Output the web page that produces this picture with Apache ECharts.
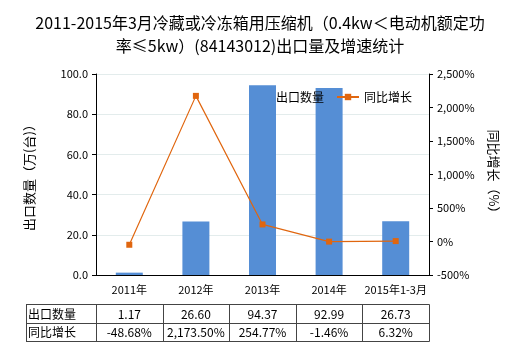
<!DOCTYPE html>
<html><head><meta charset="utf-8">
<script src="https://cdn.jsdelivr.net/npm/echarts@6/dist/echarts.min.js"></script>
<style>html,body{margin:0;padding:0;background:#fff}#c{width:520px;height:350px}</style>
</head><body><div id="c"></div>
<script>
var categories = ['2011年','2012年','2013年','2014年','2015年1-3月'];
var exportQty = [1.17, 26.60, 94.37, 92.99, 26.73];
var yoyGrowth = [-48.68, 2173.50, 254.77, -1.46, 6.32];
var qtyLabels = ['1.17','26.60','94.37','92.99','26.73'];
var growthLabels = ['-48.68%','2,173.50%','254.77%','-1.46%','6.32%'];
var rowNames = ['出口数量','同比增长'];
var titleText = '2011-2015年3月冷藏或冷冻箱用压缩机（0.4kw＜电动机额定功\n率≤5kw）(84143012)出口量及增速统计';

var FONT = '"Noto Sans CJK SC", "Noto Sans", sans-serif';
var chart = echarts.init(document.getElementById('c'));
function fmtPct(v){ return v.toLocaleString('en-US') + '%'; }
var option = {
  animation: false,
  textStyle: {fontFamily: FONT},
  title: {
    text: titleText, left: 'center', top: 6,
    textStyle: {fontSize: 16, fontWeight: 'normal', color: '#000', lineHeight: 23, fontFamily: FONT}
  },
  legend: {
    top: 86, left: 244, itemGap: 12, itemWidth: 22, itemHeight: 8,
    textStyle: {fontSize: 12, color: '#000', fontFamily: FONT},
    data: [{name: '出口数量', icon: 'rect'}, {name: '同比增长'}]
  },
  grid: {left: 96, right: 91, top: 74, bottom: 75},
  xAxis: {
    type: 'category', data: categories,
    axisLine: {lineStyle: {color: '#000'}},
    axisTick: {alignWithLabel: true, length: 4, lineStyle: {color: '#000'}},
    axisLabel: {color: '#000', fontSize: 11, margin: 9, interval: 0}
  },
  yAxis: [{
    type: 'value', min: 0, max: 100, interval: 20,
    name: '出口数量（万(台)）', nameLocation: 'middle', nameGap: 60, nameRotate: 90,
    nameTextStyle: {fontSize: 13, color: '#000'},
    axisLine: {show: true, lineStyle: {color: '#000'}},
    axisTick: {show: true, length: 4, lineStyle: {color: '#000'}},
    axisLabel: {color: '#000', fontSize: 11, formatter: function(v){return v.toFixed(1);}},
    splitLine: {lineStyle: {color: '#E3ECEC'}}
  }, {
    type: 'value', min: -500, max: 2500, interval: 500,
    name: '同比增长（%）', nameLocation: 'middle', nameGap: 58, nameRotate: -90,
    nameTextStyle: {fontSize: 13, color: '#000'},
    axisLine: {show: true, lineStyle: {color: '#000'}},
    axisTick: {show: true, length: 4, lineStyle: {color: '#000'}},
    axisLabel: {color: '#000', fontSize: 11, formatter: fmtPct},
    splitLine: {show: false}
  }],
  series: [{
    name: '出口数量', type: 'bar', data: exportQty, barWidth: 27,
    itemStyle: {color: '#558ED5'}, z: 2
  }, {
    name: '同比增长', type: 'line', yAxisIndex: 1, data: yoyGrowth,
    symbol: 'rect', symbolSize: 6,
    lineStyle: {color: '#E0660F', width: 1.2},
    itemStyle: {color: '#E0660F'}, z: 3
  }]
};
chart.setOption(option);

// build table from the arrays, aligned with the category axis
var rows = [qtyLabels, growthLabels];
var tableTop = 304, rowH = 18.5, tableLeft = 26;
var half = (chart.convertToPixel({xAxisIndex: 0}, 1) - chart.convertToPixel({xAxisIndex: 0}, 0)) / 2;
var firstLeft = chart.convertToPixel({xAxisIndex: 0}, 0) - half;
var lastRight = chart.convertToPixel({xAxisIndex: 0}, categories.length - 1) + half;
var els = [];
var lineStyle = {stroke: '#444', lineWidth: 1};
for (var r = 0; r <= rows.length; r++) {
  var y = Math.round(tableTop + r * rowH) + 0.5;
  els.push({type: 'line', shape: {x1: tableLeft, y1: y, x2: Math.round(lastRight) + 0.5, y2: y}, style: lineStyle});
}
var vx = [tableLeft];
for (var i = 0; i < categories.length; i++) vx.push(firstLeft + i * 2 * half);
vx.push(lastRight);
vx.forEach(function(x){
  var xx = Math.round(x) + 0.5;
  els.push({type: 'line', shape: {x1: xx, y1: tableTop + 0.5, x2: xx, y2: Math.round(tableTop + rows.length * rowH) + 0.5}, style: lineStyle});
});
rows.forEach(function(row, r){
  var cy = tableTop + r * rowH + rowH / 2 + 1;
  els.push({type: 'text', x: tableLeft + 2, y: cy, style: {text: rowNames[r], fill: '#000', font: '12px ' + FONT, textAlign: 'left', textVerticalAlign: 'middle'}});
  row.forEach(function(t, i){
    var cx = chart.convertToPixel({xAxisIndex: 0}, i);
    els.push({type: 'text', x: cx, y: cy, style: {text: t, fill: '#000', font: '12px ' + FONT, textAlign: 'center', textVerticalAlign: 'middle'}});
  });
});
chart.setOption({graphic: {elements: els}});
</script></body></html>
